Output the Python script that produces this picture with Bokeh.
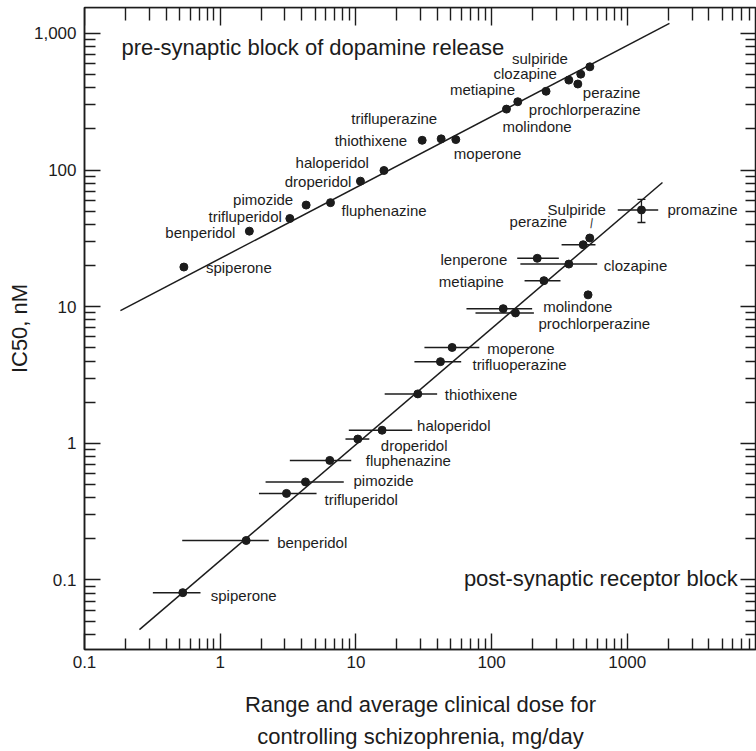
from bokeh.plotting import figure
from bokeh.models import (LogAxis, FixedTicker, CustomJSTickFormatter, Whisker, TeeHead,
                          ColumnDataSource, Label, Range1d)
from bokeh.core.properties import value
from bokeh.embed import file_html
from bokeh.resources import INLINE

# ---------------- data ----------------
x_major_ticks = [0.1, 1, 10, 100, 1000, 10000]
y_major_ticks = [0.1, 1, 10, 100, 1000]
tick_decades = [0.01, 0.1, 1, 10, 100, 1000]

# pre-synaptic block of dopamine release (upper series)
pre_drugs = ["spiperone", "benperidol", "trifluperidol", "pimozide", "fluphenazine",
             "droperidol", "haloperidol", "thiothixene", "trifluperazine", "moperone",
             "molindone", "prochlorperazine", "metiapine", "clozapine", "perazine", "",
             "sulpiride"]
pre_dose = [0.54, 1.64, 3.26, 4.30, 6.50, 10.8, 16.1, 30.8, 42.5, 54.5,
            128.8, 156, 252, 371, 432, 454, 530]
pre_ic50 = [19.5, 35.7, 44.2, 55.4, 57.7, 82.9, 99.2, 165, 169, 167,
            279, 316, 377, 455, 426, 503, 569]
pre_fit_dose = [0.184, 2046]
pre_fit_ic50 = [9.35, 1182]

# post-synaptic receptor block (lower series, with dose ranges)
post_drugs = ["spiperone", "benperidol", "trifluperidol", "pimozide", "fluphenazine",
              "droperidol", "haloperidol", "thiothixene", "trifluoperazine", "moperone",
              "molindone", "prochlorperazine", "metiapine", "lenperone", "clozapine",
              "perazine", "Sulpiride", "promazine", ""]
post_dose = [0.530, 1.554, 3.08, 4.25, 6.42, 10.33, 15.6, 28.6, 42.0, 51.2,
             121.8, 150, 243, 217, 371, 473, 529, 1272, 514]
post_dose_lo = [0.319, 0.525, 1.93, 2.16, 3.26, 8.38, 8.87, 16.3, 27.0, 32.0,
                65.3, 76.1, 175, 154.5, 163, 328, None, 851, None]
post_dose_hi = [0.716, 2.28, 5.13, 8.14, 9.24, 12.56, 26.0, 39.7, 59.7, 81.2,
                199, 205, 322, 313, 600, 583, None, 1690, None]
post_ic50 = [0.0808, 0.1945, 0.43, 0.522, 0.75, 1.075, 1.247, 2.30, 3.96, 5.03,
             9.67, 9.0, 15.5, 22.6, 20.5, 28.4, 31.8, 51.0, 12.2]
promazine_ic50_lo = [41.3]
promazine_ic50_hi = [61.0]
promazine_dose = [1272]
post_fit_dose = [0.254, 1817]
post_fit_ic50 = [0.0433, 81.1]

x_title = "Range and average clinical dose for\ncontrolling schizophrenia, mg/day"
y_title = "IC50, nM"

# ---------------- label placement (screen px offsets) ----------------
pre_label_dx = [22, -14, -8, -13, 11, -9, -15, -15, -4, -2, -4, 11, -31, -12, 5, 0, -22]
pre_label_dy = [0, 1, -2, -6, 8, 0, -8, 0, -20, 14, 17, 8, -2, -7, 8, 0, -8]
pre_label_align = ["left", "right", "right", "right", "left", "right", "right", "right",
                   "right", "left", "left", "left", "right", "right", "left", "left", "right"]
post_label_dx = [28, 31, 38, 48, 36, 23, 35, 27, 32, 35, 40, 23, -40, -30, 35, -16, -13, 26, 0]
post_label_dy = [3, 2, 6, -1, 0, 6, -5, 1, 3, 1, -2, 11, 1, 1, 1, -23, -29, 0, 0]
post_label_align = ["left"] * 12 + ["right", "right", "left", "right", "center", "left", "left"]

FONT = "Liberation Sans"
INK = "#1c1c1c"
X_START, X_END = 0.1, 8960
Y_START, Y_END = 0.031, 1546

p = figure(width=756, height=751, x_axis_type="log", y_axis_type="log",
           x_range=Range1d(X_START, X_END), y_range=Range1d(Y_START, Y_END),
           output_backend="svg", toolbar_location=None, title=None,
           min_border_left=84, min_border_right=0, min_border_top=7, min_border_bottom=99)
p.grid.visible = False
p.outline_line_color = INK
p.outline_line_width = 1.5
p.background_fill_color = "white"
p.border_fill_color = "white"

minor = [m * d for d in tick_decades for m in range(2, 10)]

def style_axis(ax, ticks, show_labels):
    ax.ticker = FixedTicker(ticks=ticks, minor_ticks=minor)
    ax.major_tick_in = 16
    ax.major_tick_out = 0
    ax.minor_tick_in = 11
    ax.minor_tick_out = 0
    ax.axis_line_color = INK
    ax.axis_line_width = 1.5
    ax.major_tick_line_color = INK
    ax.major_tick_line_width = 1.4
    ax.minor_tick_line_color = INK
    ax.minor_tick_line_width = 1.4
    ax.major_label_text_font = FONT
    ax.major_label_text_color = INK
    if show_labels:
        ax.major_label_text_font_size = "17px"
    else:
        ax.major_label_text_font_size = "0px"
        ax.major_label_standoff = 0
        ax.formatter = CustomJSTickFormatter(code="return '';")

xax = p.xaxis[0]
yax = p.yaxis[0]
style_axis(xax, x_major_ticks, True)
style_axis(yax, y_major_ticks, True)
xax.formatter = CustomJSTickFormatter(
    code="if (tick >= 1) { return tick.toFixed(0); } return String(+tick.toPrecision(1));")
yax.formatter = CustomJSTickFormatter(
    code="if (tick >= 1000) { return Math.round(tick).toLocaleString('en-US'); }"
         " if (tick >= 1) { return tick.toFixed(0); } return String(+tick.toPrecision(1));")
xax.major_label_standoff = 6
yax.major_label_standoff = 8

xax.axis_label = x_title
yax.axis_label = y_title
for ax in (xax, yax):
    ax.axis_label_text_font = FONT
    ax.axis_label_text_font_size = "22px"
    ax.axis_label_text_font_style = "normal"
    ax.axis_label_text_color = INK
xax.axis_label_text_line_height = 1.28
xax.axis_label_standoff = 21
yax.axis_label_standoff = -1

top_ax = LogAxis(fixed_location=Y_END)
style_axis(top_ax, x_major_ticks, False)
top_ax.major_tick_in = 18
top_ax.minor_tick_in = 13
p.add_layout(top_ax, "above")
right_ax = LogAxis(fixed_location=X_END)
style_axis(right_ax, y_major_ticks, False)
p.add_layout(right_ax, "right")

# fit lines
p.line(pre_fit_dose, pre_fit_ic50, line_color=INK, line_width=1.5)
p.line(post_fit_dose, post_fit_ic50, line_color=INK, line_width=1.5)

# horizontal dose-range bars
seg = [(lo, hi, y) for lo, hi, y in zip(post_dose_lo, post_dose_hi, post_ic50) if lo is not None]
p.segment(x0=[s[0] for s in seg], x1=[s[1] for s in seg],
          y0=[s[2] for s in seg], y1=[s[2] for s in seg], line_color=INK, line_width=1.5)

# promazine vertical error bar
wsrc = ColumnDataSource(dict(base=promazine_dose, lower=promazine_ic50_lo, upper=promazine_ic50_hi))
p.add_layout(Whisker(source=wsrc, base="base", lower="lower", upper="upper", dimension="height",
                     line_color=INK, line_width=1.3,
                     upper_head=TeeHead(size=8, line_color=INK, line_width=1.3),
                     lower_head=TeeHead(size=8, line_color=INK, line_width=1.3)))

# points
p.scatter(pre_dose, pre_ic50, size=8, fill_color=INK, line_color=INK)
p.scatter(post_dose, post_ic50, size=8, fill_color=INK, line_color=INK)

# drug labels
def add_labels(names, xs, ys, dxs, dys, aligns):
    for al in ("left", "right", "center"):
        idx = [i for i in range(len(names)) if aligns[i] == al and names[i]]
        if not idx:
            continue
        src = ColumnDataSource(dict(x=[xs[i] for i in idx], y=[ys[i] for i in idx],
                                    t=[names[i] for i in idx], dx=[dxs[i] for i in idx],
                                    dy=[dys[i] for i in idx]))
        p.text(x="x", y="y", text="t", x_offset="dx", y_offset="dy", source=src,
               text_align=al, text_baseline="middle", text_font=value(FONT),
               text_font_size="15px", text_color=INK)

add_labels(pre_drugs, pre_dose, pre_ic50, pre_label_dx, pre_label_dy, pre_label_align)
add_labels(post_drugs, post_dose, post_ic50, post_label_dx, post_label_dy, post_label_align)

# small leader from "Sulpiride" label to its point
si = post_drugs.index("Sulpiride")
p.text(x=[post_dose[si]], y=[post_ic50[si]], text=["|"], x_offset=[2], y_offset=[-16],
       angle=-0.15, text_align="center", text_baseline="middle", text_font=value(FONT),
       text_font_size="11px", text_color=INK)

# panel annotations
p.add_layout(Label(x=0.1873, y=790, text="pre-synaptic block of dopamine release",
                   text_font=FONT, text_font_size="22px", text_color=INK,
                   text_baseline="middle", text_align="left"))
p.add_layout(Label(x=62.5, y=0.102, text="post-synaptic receptor block",
                   text_font=FONT, text_font_size="22px", text_color=INK,
                   text_baseline="middle", text_align="left"))

open("out.html", "w").write(file_html(p, INLINE))
